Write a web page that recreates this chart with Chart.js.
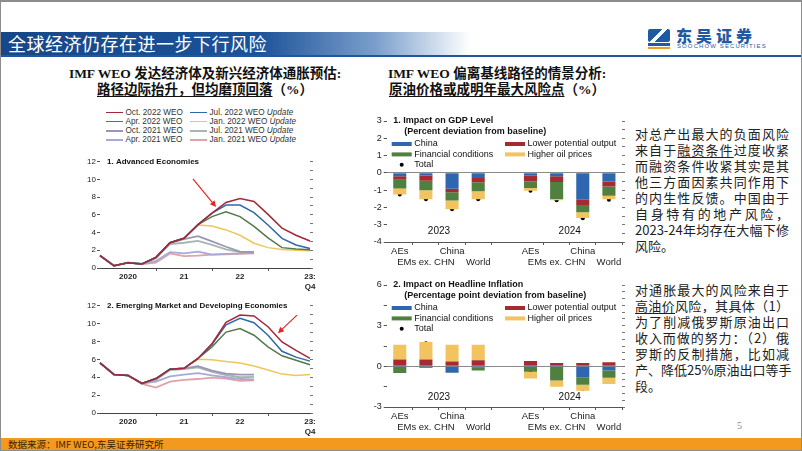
<!DOCTYPE html>
<html lang="zh-CN">
<head>
<meta charset="utf-8">
<title>全球经济仍存在进一步下行风险</title>
<script src="https://cdn.jsdelivr.net/npm/chart.js@4.4.1/dist/chart.umd.min.js"></script>
<style>
  html, body { margin: 0; padding: 0; background: #fff; }
  #slide { position: relative; width: 802px; height: 451px; overflow: hidden; font-family: "Noto Sans CJK SC", sans-serif; color: #222; }
  #slide > div { position: absolute; }
  .frame { left: 0; top: 0; width: 802px; height: 451px; box-sizing: border-box; border: 1px solid #8c8c8c; border-top-width: 2px; z-index: 10; pointer-events: none; }
  .titlebar { left: 0; top: 32px; width: 470px; height: 23px; padding-left: 8px; box-sizing: border-box;
    background: linear-gradient(90deg, #164788 0%, #1c5299 55%, #7b9fcc 80%, #ffffff 100%);
    color: #fff; font-size: 18px; line-height: 23px; letter-spacing: 0.5px; }
  .blueline { left: 0; top: 55px; width: 802px; height: 2px; background: #2058a0; }
  .logo-icon { left: 648px; top: 29px; width: 22px; height: 13px; border-radius: 2px;
    background: linear-gradient(135deg, #1f5aa3 40%, #fff 40%, #fff 55%, #1f5aa3 55%); }
  .logo-sub { left: 648px; top: 43px; width: 22px; height: 3px; background: #1f5aa3; }
  .logo-bar { left: 648px; top: 47px; width: 22px; height: 2px; background: #f39a1e; }
  .logo-cn { left: 676px; top: 27px; font-size: 16px; line-height: 17px; font-weight: 900; letter-spacing: 4px; color: #1f5aa3; }
  .logo-en { left: 677px; top: 43px; font-family: "Liberation Sans", sans-serif; font-size: 6px; line-height: 6px; letter-spacing: 1.1px; color: #1f5aa3; }
  .ptitle { text-align: center; font-family: "Liberation Serif", "Noto Sans CJK SC", serif; font-weight: bold; font-size: 13.5px; line-height: 16px; color: #111; }
  .ptitle u { text-underline-offset: 2px; }
  #lineLegend { left: 106px; top: 108px; display: grid; grid-template-columns: 84px auto; grid-auto-rows: 9.1px;
    font-family: "Liberation Sans", Arial, sans-serif; font-size: 8.2px; color: #333; }
  #lineLegend .item { display: flex; align-items: center; white-space: nowrap; }
  #lineLegend .sw { width: 17px; height: 1.6px; margin-right: 2.5px; }
  .cw { position: absolute; }
  .para { left: 635px; width: 154px; font-size: 13px; line-height: 16px; color: #222; }
  .para .j { text-align: justify; text-align-last: justify; white-space: nowrap; }
  .para u { text-underline-offset: 2px; }
  .pageno { left: 737px; top: 420px; font-family: "Liberation Serif", serif; font-size: 10px; color: #8a8a8a; }
  .footer { left: 0; top: 438px; width: 802px; height: 12px; background: #f39a1e; }
  .footer span { position: absolute; left: 8px; top: 0; font-size: 9.5px; line-height: 12px; color: #3b2200; }
</style>
</head>
<body>
<div id="slide">
  <div class="titlebar">全球经济仍存在进一步下行风险</div>
  <div class="blueline"></div>
  <div class="logo-icon"></div><div class="logo-sub"></div><div class="logo-bar"></div>
  <div class="logo-cn">东吴证券</div>
  <div class="logo-en">SOOCHOW SECURITIES</div>

  <div class="ptitle" style="left:40px;top:66px;width:330px;">IMF WEO 发达经济体及新兴经济体通胀预估:<br><u>路径边际抬升，但均磨顶回落</u>（%）</div>
  <div class="ptitle" style="left:347px;top:66px;width:300px;">IMF WEO 偏离基线路径的情景分析:<br><u>原油价格或成明年最大风险点</u>（%）</div>

  <div id="lineLegend"></div>

  <div class="cw" style="left:80px;top:150px;width:240px;height:142px;"><canvas id="advChart"></canvas></div>
  <div class="cw" style="left:80px;top:295px;width:240px;height:142px;"><canvas id="emChart"></canvas></div>
  <div class="cw" style="left:360px;top:112px;width:270px;height:156px;"><canvas id="gdpChart"></canvas></div>
  <div class="cw" style="left:360px;top:276px;width:270px;height:157px;"><canvas id="infChart"></canvas></div>

  <div class="para" style="top:126px;">
    <div class="j">对总产出最大的负面风险</div>
    <div class="j">来自于<u>融资条件</u>过度收紧</div>
    <div class="j">而融资条件收紧其实是其</div>
    <div class="j">他三方面因素共同作用下</div>
    <div class="j">的内生性反馈。中国由于</div>
    <div class="j">自身特有的地产风险，</div>
    <div class="j">2023-24年均存在大幅下修</div>
    <div>风险。</div>
  </div>
  <div class="para" style="top:282px;">
    <div class="j">对通胀最大的风险来自于</div>
    <div class="j"><u>高油价</u>风险，其具体（1）</div>
    <div class="j">为了削减俄罗斯原油出口</div>
    <div class="j">收入而做的努力：（2）俄</div>
    <div class="j">罗斯的反制措施，比如减</div>
    <div class="j">产、降低25%原油出口等手</div>
    <div>段。</div>
  </div>

  <div class="pageno">5</div>
  <div class="footer"><span>数据来源：IMF WEO,东吴证券研究所</span></div>
  <div class="frame"></div>
</div>

<script>
// ---- line charts: quarterly inflation forecasts by WEO vintage ----
const quarters = ["2020Q1", "2020Q2", "2020Q3", "2020Q4", "2021Q1", "2021Q2", "2021Q3", "2021Q4",
                  "2022Q1", "2022Q2", "2022Q3", "2022Q4", "2023Q1", "2023Q2", "2023Q3", "2023Q4"];
const quarterTicks = ["", "", "2020", "", "", "", "21", "", "", "", "22", "", "", "", "", ["23:", "Q4"]];
const yearStarts = [4, 8, 12];

const vintageNames = ["Oct. 2022 WEO", "Jul. 2022 WEO Update", "Apr. 2022 WEO", "Jan. 2022 WEO Update",
                      "Oct. 2021 WEO", "Jul. 2021 WEO Update", "Apr. 2021 WEO", "Jan. 2021 WEO Update"];
const vintageColors = ["#a4283b", "#3068a8", "#56784b", "#efc65c", "#9c95b3", "#a6b5ad", "#aaa8d8", "#dca4a6"];

// Advanced economies
const advOct22 = [1.4, 0.25, 0.6, 0.45, 1.2, 2.85, 3.35, 4.9, 6.2, 7.4, 7.85, 7.5, 6.05, 4.5, 3.7, 3.05];
const advJul22 = [1.4, 0.25, 0.6, 0.45, 1.2, 2.85, 3.35, 4.9, 6.2, 7.1, 7.1, 6.25, 4.85, 3.35, 2.6, 2.2];
const advApr22 = [1.4, 0.25, 0.6, 0.45, 1.2, 2.85, 3.35, 4.9, 5.8, 6.35, 5.8, 4.7, 3.4, 2.3, 2.15, 2.05];
const advJan22 = [1.4, 0.25, 0.6, 0.45, 1.2, 2.85, 3.35, 4.85, 4.75, 4.3, 3.7, 2.8, 2.3, 2.1, 2.0, 1.95];
const advOct21 = [1.4, 0.25, 0.6, 0.45, 1.2, 2.85, 3.25, 3.6, 3.0, 2.4, 1.85, 1.8, null, null, null, null];
const advJul21 = [1.4, 0.25, 0.6, 0.45, 1.1, 2.7, 2.85, 3.05, 2.6, 2.1, 1.8, 1.8, null, null, null, null];
const advApr21 = [1.4, 0.25, 0.6, 0.45, 0.8, 1.8, 1.65, 1.85, 1.5, 1.6, 1.65, 1.7, null, null, null, null];
const advJan21 = [1.4, 0.25, 0.6, 0.45, 0.6, 1.65, 1.35, 1.4, 1.5, 1.55, 1.6, 1.65, null, null, null, null];

// Emerging market and developing economies
const emOct22 = [5.6, 4.3, 4.2, 3.3, 3.85, 4.9, 5.0, 6.1, 7.75, 10.15, 10.95, 10.85, 9.65, 7.95, 7.0, 6.1];
const emJul22 = [5.6, 4.3, 4.2, 3.3, 3.85, 4.9, 5.0, 6.1, 7.7, 9.85, 10.6, 10.1, 8.7, 6.9, 6.25, 5.8];
const emApr22 = [5.6, 4.3, 4.2, 3.3, 3.85, 4.9, 5.0, 6.1, 7.4, 9.05, 9.45, 8.7, 7.4, 6.4, 5.9, 5.4];
const emJan22 = [5.6, 4.3, 4.2, 3.3, 3.85, 4.9, 5.0, 6.0, 5.95, 5.75, 5.6, 5.25, 4.8, 4.35, 4.2, 4.3];
const emOct21 = [5.6, 4.3, 4.2, 3.3, 3.8, 4.9, 5.0, 5.25, 4.75, 4.4, 4.3, 4.3, null, null, null, null];
const emJul21 = [5.6, 4.3, 4.2, 3.3, 3.7, 4.8, 4.9, 5.1, 4.6, 4.25, 4.0, 4.05, null, null, null, null];
const emApr21 = [5.6, 4.3, 4.2, 3.3, 3.5, 4.1, 4.3, 4.45, 4.2, 4.0, 3.8, 3.75, null, null, null, null];
const emJan21 = [5.6, 4.3, 4.2, 3.25, 2.85, 3.5, 3.7, 3.8, 3.95, 3.85, 3.6, 3.65, null, null, null, null];

// ---- bar charts: scenario deviation from baseline ----
const barCategories = [["AEs", ""], ["", "EMs ex. CHN"], ["China", ""], ["", "World"], "",
                       ["AEs", ""], ["", "EMs ex. CHN"], ["China", ""], ["", "World"]];
const barYears = ["2023", "2024"];
const barYearSlots = [[0, 1, 2, 3], [5, 6, 7, 8]];
const scenarioNames = ["China", "Lower potential output", "Financial conditions", "Higher oil prices", "Total"];
const scenarioColors = ["#2f66b0", "#a62a32", "#4f8040", "#f1c45f", "#000000"];

const gdpChina     = [-0.2, -0.15, -0.92, -0.3, null, -0.17, -0.2, -1.56, -0.5];
const gdpLowerPot  = [-0.2, -0.3, -0.2, -0.25, null, -0.33, -0.33, -0.3, -0.29];
const gdpFinancial = [-0.5, -0.55, -0.48, -0.52, null, -0.37, -0.98, -0.42, -0.54];
const gdpOil       = [-0.35, -0.52, -0.5, -0.45, null, -0.17, -0.07, -0.33, -0.2];
const gdpTotal     = [-1.25, -1.52, -2.1, -1.52, null, -1.04, -1.58, -2.63, -1.56];

const infChina     = [-0.05, -0.1, -0.45, -0.1, null, -0.05, -0.05, -0.8, -0.3];
const infLowerPot  = [0.5, 0.5, 0.35, 0.45, null, 0.4, 0.25, 0.25, 0.3];
const infFinancial = [-0.45, -0.02, -0.05, -0.2, null, -0.35, -1.0, -0.55, -0.55];
const infOil       = [1.1, 1.3, 1.25, 1.15, null, -0.5, -0.45, -0.45, -0.45];
const infTotal     = [1.15, 1.7, 1.1, 1.35, null, -0.5, -1.3, -1.65, -1.0];

Chart.defaults.font.family = "'Liberation Sans', Arial, sans-serif";
Chart.defaults.color = "#222";

// HTML legend for the two line charts
const legendBox = document.getElementById("lineLegend");
vintageNames.forEach((name, i) => {
    const item = document.createElement("div");
    item.className = "item";
    const text = name.replace(" Update", " <i>Update</i>");
    item.innerHTML = `<span class="sw" style="background:${vintageColors[i]}"></span><span>${text}</span>`;
    legendBox.appendChild(item);
});

function drawArrow(ctx, x1, y1, x2, y2) {
    const ang = Math.atan2(y2 - y1, x2 - x1);
    ctx.strokeStyle = "#e4262a";
    ctx.fillStyle = "#e4262a";
    ctx.lineWidth = 1.2;
    ctx.beginPath();
    ctx.moveTo(x1, y1);
    ctx.lineTo(x2 - 4 * Math.cos(ang), y2 - 4 * Math.sin(ang));
    ctx.stroke();
    ctx.beginPath();
    ctx.moveTo(x2, y2);
    ctx.lineTo(x2 - 6 * Math.cos(ang) + 3 * Math.sin(ang), y2 - 6 * Math.sin(ang) - 3 * Math.cos(ang));
    ctx.lineTo(x2 - 6 * Math.cos(ang) - 3 * Math.sin(ang), y2 - 6 * Math.sin(ang) + 3 * Math.cos(ang));
    ctx.closePath();
    ctx.fill();
}

function makeLineChart(id, title, series, arrowFrom, arrowTo, topPad) {
    return new Chart(document.getElementById(id), {
        type: "line",
        data: {
            labels: quarters,
            datasets: series.map((s, i) => ({
                label: vintageNames[i],
                data: s,
                borderColor: vintageColors[i],
                borderWidth: i >= 4 ? 1.8 : 1.5,
                pointRadius: 0,
                tension: 0,
                fill: false
            }))
        },
        options: {
            responsive: true,
            maintainAspectRatio: false,
            animation: false,
            layout: { padding: { top: topPad, left: 0, right: 0, bottom: 0 } },
            plugins: { legend: { display: false }, tooltip: { enabled: false } },
            scales: {
                x: {
                    grid: { drawOnChartArea: false, tickLength: 3, tickColor: c => yearStarts.includes(c.index) ? "#555" : "rgba(0,0,0,0)" },
                    border: { color: "#444" },
                    ticks: { autoSkip: false, maxRotation: 0, padding: 1, font: { size: 8, weight: "bold" }, color: "#222",
                             callback: (v, i) => quarterTicks[i] },
                    afterFit: s => { s.height = 24; }
                },
                y: {
                    min: 0, max: 12,
                    ticks: { stepSize: 1, padding: 1, font: { size: 8 }, color: "#222", callback: v => v % 2 === 0 ? v : "" },
                    grid: { drawOnChartArea: false, tickLength: 3, tickColor: "#555" },
                    border: { display: false },
                    afterFit: s => { s.width = 20; }
                },
                y2: {
                    position: "right", min: 0, max: 12,
                    ticks: { stepSize: 1, display: false },
                    grid: { drawOnChartArea: false, tickLength: 3, tickColor: "#777" },
                    border: { display: false },
                    afterFit: s => { s.width = 10; }
                }
            }
        },
        plugins: [{
            id: "lineOverlay",
            afterDraw(chart) {
                const { ctx, chartArea, scales } = chart;
                ctx.save();
                ctx.font = "bold 8px 'Liberation Sans', Arial, sans-serif";
                ctx.fillStyle = "#111";
                ctx.textBaseline = "middle";
                ctx.fillText(title, chartArea.left + 7, scales.y.getPixelForValue(12));
                drawArrow(ctx,
                    scales.x.getPixelForValue(arrowFrom[0]), scales.y.getPixelForValue(arrowFrom[1]),
                    scales.x.getPixelForValue(arrowTo[0]), scales.y.getPixelForValue(arrowTo[1]));
                ctx.restore();
            }
        }]
    });
}

makeLineChart("advChart", "1. Advanced Economies",
    [advOct22, advJul22, advApr22, advJan22, advOct21, advJul21, advApr21, advJan21],
    [6.64, 10.05], [8.29, 6.9], 11.7);
makeLineChart("emChart", "2. Emerging Market and Developing Economies",
    [emOct22, emJul22, emApr22, emJan22, emOct21, emJul21, emApr21, emJan21],
    [14.07, 10.95], [12.71, 8.93], 10.7);

const legendSlots = [[0, 0], [1, 0], [0, 1], [1, 1], [0, 2]];

function makeBarChart(id, title, subtitle, series, total, min, max, yearY) {
    const datasets = series.map((s, i) => ({
        type: "bar",
        label: scenarioNames[i],
        data: s,
        backgroundColor: scenarioColors[i],
        barPercentage: 0.5,
        categoryPercentage: 1,
        stack: "parts"
    }));
    datasets.push({
        type: "line",
        label: scenarioNames[4],
        data: total,
        showLine: false,
        pointRadius: 2,
        pointBackgroundColor: "#000",
        pointBorderWidth: 0,
        borderColor: "#000",
        stack: "total"
    });
    return new Chart(document.getElementById(id), {
        data: { labels: barCategories, datasets: datasets },
        options: {
            responsive: true,
            maintainAspectRatio: false,
            animation: false,
            layout: { padding: { top: 9, left: 0, right: 0, bottom: 0 } },
            plugins: { legend: { display: false }, tooltip: { enabled: false } },
            scales: {
                x: {
                    stacked: true,
                    grid: { offset: true, drawOnChartArea: false, tickLength: 3,
                            tickColor: c => [0, 5, 9].includes(c.index) ? "rgba(0,0,0,0)" : "#555" },
                    border: { color: "#555" },
                    ticks: { autoSkip: false, maxRotation: 0, padding: 1, font: { size: 9.5, lineHeight: 1.15 }, color: "#222" },
                    afterFit: s => { s.height = 26; }
                },
                y: {
                    stacked: true, min: min, max: max,
                    ticks: { stepSize: 0.5, padding: 2, font: { size: 9 }, color: "#222",
                             callback: v => Number.isInteger(v) ? v : "" },
                    grid: { drawOnChartArea: true, tickLength: 3, tickColor: "#555",
                            color: c => c.tick && c.tick.value === 0 ? "#8a8a8a" : "rgba(0,0,0,0)" },
                    border: { display: false },
                    afterFit: s => { s.width = 26.7; }
                },
                y2: {
                    position: "right", min: min, max: max,
                    ticks: { stepSize: 0.5, display: false },
                    grid: { drawOnChartArea: false, tickLength: 3, tickColor: "#777" },
                    border: { display: false },
                    afterFit: s => { s.width = 8; }
                }
            }
        },
        plugins: [{
            id: "barOverlay",
            afterDraw(chart) {
                const { ctx, chartArea: a, scales } = chart;
                ctx.save();
                ctx.fillStyle = "#111";
                ctx.textBaseline = "middle";
                ctx.font = "bold 9px 'Liberation Sans', Arial, sans-serif";
                ctx.fillText(title, a.left + 6.6, a.top);
                ctx.fillText(subtitle, a.left + 17.6, a.top + 10.6);
                ctx.font = "9px 'Liberation Sans', Arial, sans-serif";
                chart.data.datasets.forEach((ds, i) => {
                    const [col, row] = legendSlots[i];
                    const x = a.left + (col ? 118.3 : 5);
                    const y = a.top + 23 + row * 10.4;
                    ctx.fillStyle = scenarioColors[i];
                    if (ds.type === "line") {
                        ctx.beginPath();
                        ctx.arc(x + 10, y, 2, 0, Math.PI * 2);
                        ctx.fill();
                    } else {
                        ctx.fillRect(x, y - 2, 20, 4);
                    }
                    ctx.fillStyle = "#111";
                    ctx.fillText(ds.label, x + 22.6, y);
                });
                ctx.font = "10px 'Liberation Sans', Arial, sans-serif";
                ctx.textAlign = "center";
                barYears.forEach((yr, k) => {
                    const slots = barYearSlots[k];
                    const mid = (slots[0] + slots[slots.length - 1]) / 2;
                    ctx.fillText(yr, scales.x.getPixelForValue(mid), scales.y.getPixelForValue(yearY));
                });
                ctx.restore();
            }
        }]
    });
}

makeBarChart("gdpChart", "1. Impact on GDP Level", "(Percent deviation from baseline)",
    [gdpChina, gdpLowerPot, gdpFinancial, gdpOil], gdpTotal, -4, 3, -3.4);
makeBarChart("infChart", "2. Impact on Headline Inflation", "(Percentage point deviation from baseline)",
    [infChina, infLowerPot, infFinancial, infOil], infTotal, -3, 6, -2.3);
</script>
</body>
</html>
